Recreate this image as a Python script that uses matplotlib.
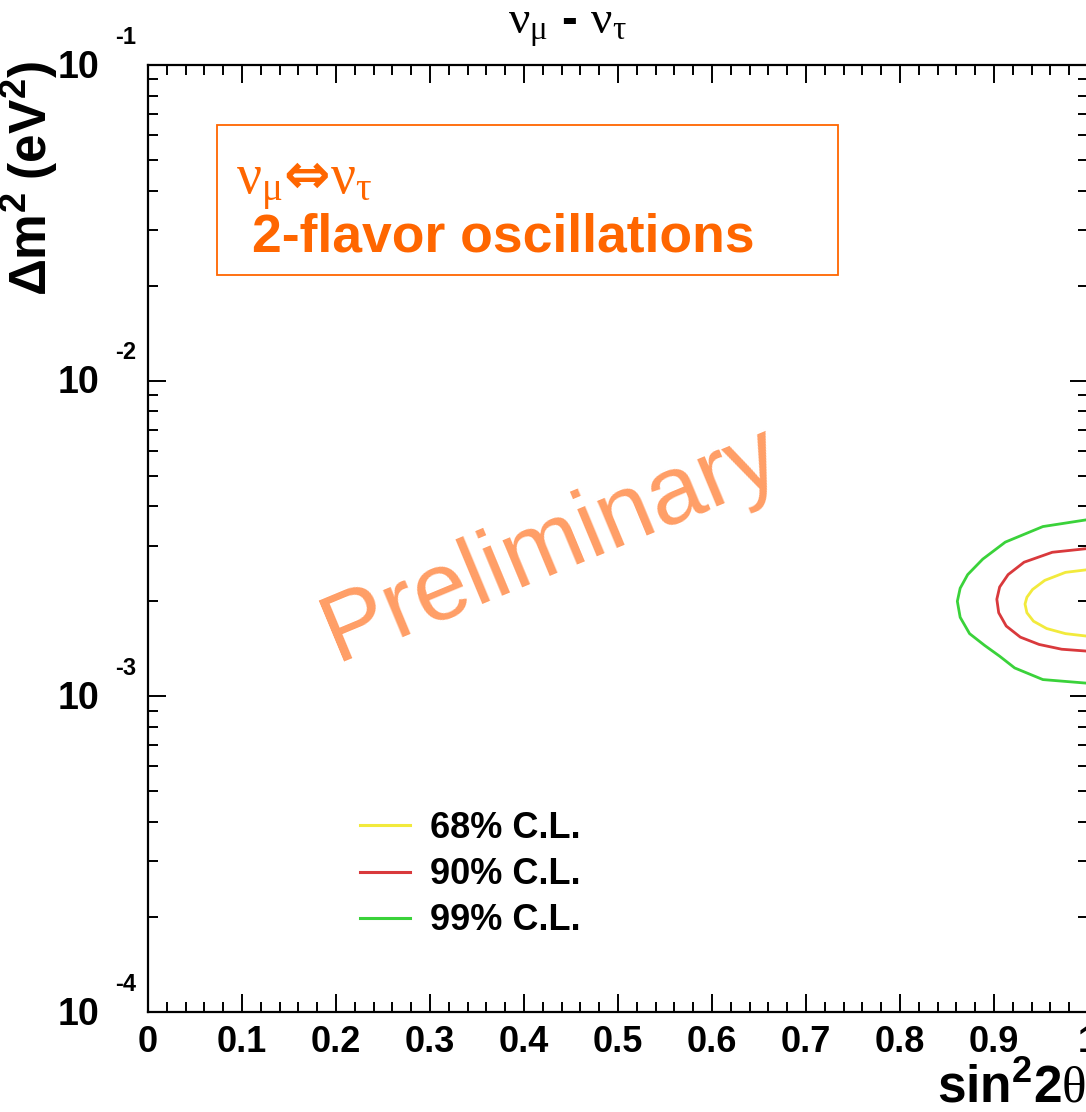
import numpy as np
import matplotlib
matplotlib.use("Agg")
import matplotlib.pyplot as plt
from matplotlib.ticker import MultipleLocator, LogLocator, NullFormatter, FixedLocator
from matplotlib.patches import Rectangle

plt.rcParams['font.family'] = ['Liberation Sans', 'DejaVu Sans']
plt.rcParams['mathtext.fontset'] = 'custom'
plt.rcParams['mathtext.rm'] = 'Liberation Serif'
plt.rcParams['mathtext.it'] = 'Liberation Serif:italic'
plt.rcParams['mathtext.bf'] = 'Liberation Sans:bold'

# ---- data (sin^2 2theta, delta m^2 in eV^2) ----
cl68_x = [1.000, 0.976, 0.954, 0.941, 0.935, 0.933, 0.935, 0.942, 0.956, 0.976, 1.000]
cl68_y = [2.52e-3, 2.47e-3, 2.33e-3, 2.18e-3, 2.06e-3, 1.96e-3, 1.84e-3, 1.73e-3, 1.64e-3, 1.58e-3, 1.55e-3]

cl90_x = [1.000, 0.962, 0.932, 0.915, 0.906, 0.903, 0.905, 0.913, 0.928, 0.948, 0.972, 1.000]
cl90_y = [2.94e-3, 2.86e-3, 2.66e-3, 2.43e-3, 2.22e-3, 2.03e-3, 1.84e-3, 1.67e-3, 1.54e-3, 1.46e-3, 1.41e-3, 1.39e-3]

cl99_x = [1.000, 0.952, 0.912, 0.888, 0.872, 0.864, 0.861, 0.864, 0.874, 0.890, 0.906, 0.922, 0.952, 1.000]
cl99_y = [3.63e-3, 3.45e-3, 3.08e-3, 2.72e-3, 2.43e-3, 2.20e-3, 2.00e-3, 1.78e-3, 1.58e-3, 1.45e-3, 1.34e-3, 1.23e-3, 1.13e-3, 1.10e-3]

labels = ["68% C.L.", "90% C.L.", "99% C.L."]
colors = ["#f2ea3c", "#d9393c", "#3ad23a"]

x_ticks = [0, 0.1, 0.2, 0.3, 0.4, 0.5, 0.6, 0.7, 0.8, 0.9, 1]
x_ticklabels = ["0", "0.1", "0.2", "0.3", "0.4", "0.5", "0.6", "0.7", "0.8", "0.9", "1"]
y_decades = [1e-4, 1e-3, 1e-2, 1e-1]
y_exps = ["-4", "-3", "-2", "-1"]

orange = "#ff6600"

W, H = 1086, 1112
fig = plt.figure(figsize=(W / 100, H / 100), dpi=100)
ax = fig.add_axes([148 / W, 100 / H, 940 / W, 947 / H])
ax.set_xlim(0, 1)
ax.set_yscale('log')
ax.set_ylim(1e-4, 1e-1)

for xs, ys, c, lab in zip([cl68_x, cl90_x, cl99_x], [cl68_y, cl90_y, cl99_y], colors, labels):
    ax.plot(xs, ys, color=c, lw=2.0, label=lab, solid_joinstyle='round')

# axes styling (ROOT-like)
for s in ax.spines.values():
    s.set_linewidth(1.6)
ax.xaxis.set_major_locator(FixedLocator(x_ticks))
ax.xaxis.set_minor_locator(MultipleLocator(0.02))
ax.set_xticklabels(x_ticklabels, fontsize=26, fontweight='bold')
ax.yaxis.set_major_locator(FixedLocator(y_decades))
ax.yaxis.set_minor_locator(LogLocator(base=10, subs=np.arange(2, 10), numticks=20))
ax.yaxis.set_major_formatter(NullFormatter())
ax.yaxis.set_minor_formatter(NullFormatter())
ax.tick_params(which='both', direction='in', top=True, right=True, width=1.4)
ax.tick_params(which='major', length=13, pad=9)
ax.tick_params(which='minor', length=7)

# y tick labels: "10" with exponent up-right (ROOT style)
ytr = ax.get_yaxis_transform()
for v, e in zip(y_decades, y_exps):
    ax.annotate("10", xy=(0, v), xycoords=ytr, xytext=(-35, -2), textcoords='offset points',
                ha='right', va='center', fontsize=27, fontweight='bold', annotation_clip=False)
    ax.annotate(e, xy=(0, v), xycoords=ytr, xytext=(-24, 20), textcoords='offset points',
                ha='left', va='center', fontsize=17, fontweight='bold', annotation_clip=False)

# axis titles
fig.text(30 / W, 1 - 178 / H, r'$\mathbf{\Delta m^{2}\ (eV^{2})}$', rotation=90,
         ha='center', va='center', fontsize=37)
fig.text(937 / W, 1 - 1102 / H, r'$\mathbf{sin^{2}2}\mathrm{\theta}$', ha='left', va='baseline',
         fontsize=37)

# title
fig.text(567 / W, 1 - 34 / H, r'$\mathrm{\nu_{\mu}}$ - $\mathrm{\nu_{\tau}}$', ha='center',
         va='baseline', fontsize=34, fontweight='bold')

# orange box with text
ax.add_patch(Rectangle((0.0734, 0.778), 0.734 - 0.0734, 0.9366 - 0.778, transform=ax.transAxes,
                       fill=False, edgecolor=orange, lw=1.3))
ax.text(0.094, 0.872, r'$\mathrm{\nu_{\mu}}$⇔$\mathrm{\nu_{\tau}}$', transform=ax.transAxes,
        ha='left', va='center', fontsize=40, fontweight='bold', color=orange,
        family=['DejaVu Sans'])
ax.text(0.111, 0.818, '2-flavor oscillations', transform=ax.transAxes, ha='left', va='center',
        fontsize=38.5, fontweight='bold', color=orange)

# watermark
ax.text(0.429, 0.493, 'Preliminary', transform=ax.transAxes, ha='center', va='center',
        rotation=22.6, rotation_mode='anchor', fontsize=70, color='#ff9e66')

# legend
leg = ax.legend(loc='upper left', bbox_to_anchor=(212 / 940, 1 - (811 - 65) / 947), frameon=False,
                fontsize=26, handlelength=1.385, handletextpad=0.55, labelspacing=0.31,
                borderpad=0, borderaxespad=0)
for t in leg.get_texts():
    t.set_fontweight('bold')
for h in leg.get_lines():
    h.set_linewidth(2.2)

fig.savefig('out.png', dpi=100)
